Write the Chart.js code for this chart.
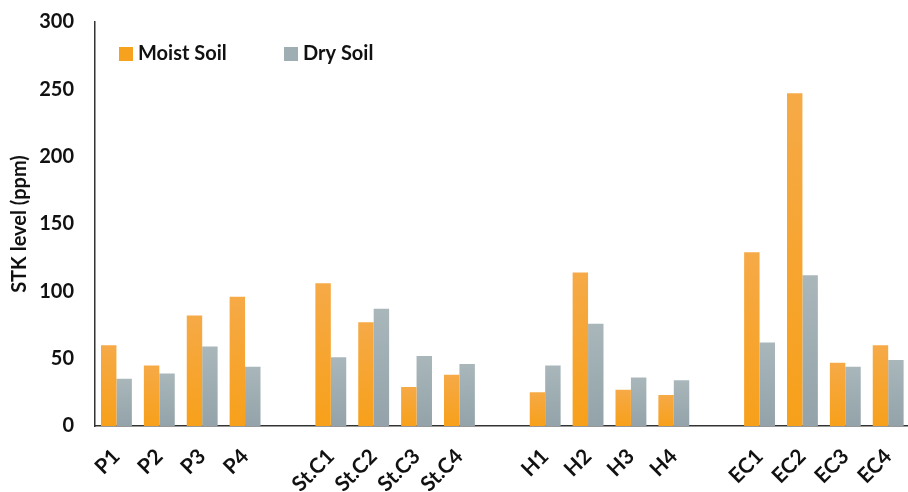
<!DOCTYPE html>
<html><head><meta charset="utf-8">
<script src="https://cdn.jsdelivr.net/npm/chart.js@4.4.0/dist/chart.umd.min.js"></script>
<style>html,body{margin:0;padding:0;overflow:hidden;background:#fff}#wrap{width:924px;height:492px;position:relative}</style>
</head><body><div id="wrap"><canvas id="c"></canvas></div>
<script>
const categories = ["P1","P2","P3","P4","","St.C1","St.C2","St.C3","St.C4","","H1","H2","H3","H4","","EC1","EC2","EC3","EC4"];
const moistSoil = [60,45,82,96,null,106,77,29,38,null,25,114,27,23,null,129,247,47,60];
const drySoil   = [35,39,59,44,null,51,87,52,46,null,45,76,36,34,null,62,112,44,49];
const yTicks = [0,50,100,150,200,250,300];

const FONT = "Lato, 'Open Sans', sans-serif";
const W = 'bold';

function grad(top, bottom) {
  return function(ctx) {
    const chart = ctx.chart;
    const area = chart.chartArea;
    if (!area || ctx.raw == null) return bottom;
    const y = chart.scales.y.getPixelForValue(ctx.raw);
    const g = chart.ctx.createLinearGradient(0, y, 0, area.bottom);
    g.addColorStop(0, top);
    g.addColorStop(1, bottom);
    return g;
  };
}

const legendPlugin = {
  id: 'customLegend',
  afterDraw(chart) {
    const c = chart.ctx;
    const positions = [119, 284];
    c.save();
    c.font = W + " 20px " + FONT;
    c.textBaseline = 'middle';
    chart.data.datasets.forEach((ds, i) => {
      const x = positions[i];
      c.fillStyle = ds.legendColor;
      c.fillRect(x, 47, 14, 14);
      c.fillStyle = '#111';
      c.fillText(ds.label, x + 19, 54);
    });
    c.restore();
  }
};

new Chart(document.getElementById('c'), {
  type: 'bar',
  data: {
    labels: categories,
    datasets: [
      { label: 'Moist Soil', data: moistSoil, legendColor: '#F7A21F',
        backgroundColor: grad('#F6AA47', '#F7A01A'), barPercentage: 1, categoryPercentage: 0.72 },
      { label: 'Dry Soil', data: drySoil, legendColor: '#9FAEB3',
        backgroundColor: grad('#A9B7BB', '#93A3A9'), barPercentage: 1, categoryPercentage: 0.72 }
    ]
  },
  options: {
    responsive: true,
    maintainAspectRatio: false,
    animation: false,
    layout: { padding: { top: 22, left: 0, right: 0, bottom: 0 } },
    plugins: { legend: { display: false }, tooltip: { enabled: false } },
    scales: {
      x: {
        grid: { display: false, drawTicks: false },
        border: { display: true, color: '#333', width: 1.5 },
        ticks: {
          color: '#111', font: { family: FONT, weight: W, size: 21 },
          maxRotation: 45, minRotation: 45, padding: 18, autoSkip: false
        },
        afterFit(s) { s.height = 66; }
      },
      y: {
        min: 0, max: 300,
        grid: { display: false, drawTicks: true, tickLength: 21 },
        border: { display: true, color: '#333', width: 1.5 },
        afterBuildTicks(s) { s.ticks = yTicks.map(v => ({ value: v })); },
        ticks: { color: '#111', font: { family: FONT, weight: W, size: 20 }, padding: 0 },
        title: { display: true, text: 'STK level (ppm)', color: '#111',
          font: { family: FONT, weight: W, size: 20 }, padding: { top: 8, bottom: 0 } },
        afterFit(s) { s.width = 95; }
      }
    }
  },
  plugins: [legendPlugin]
});
</script></body></html>
